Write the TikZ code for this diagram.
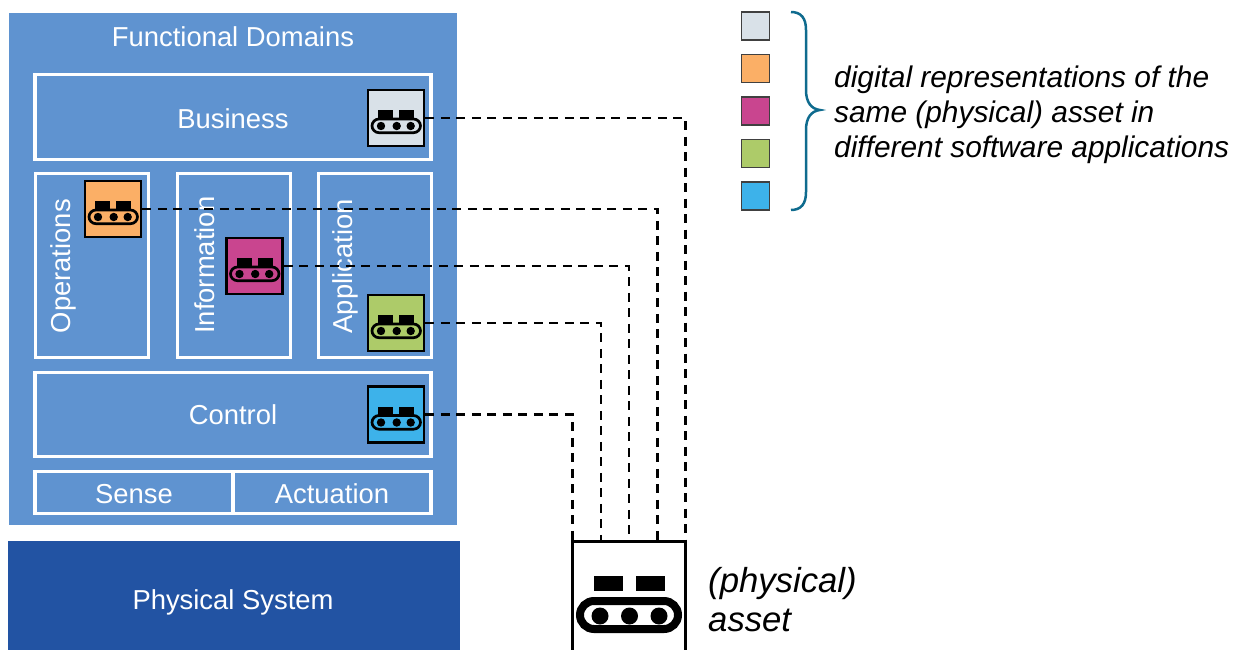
\documentclass[tikz,border=0pt]{standalone}
\usepackage{fontspec}
\setmainfont{Liberation Sans}
\definecolor{panelblue}{HTML}{5F93D0}
\definecolor{deepblue}{HTML}{2253A3}
\definecolor{assetgray}{HTML}{D9E1E8}
\definecolor{assetorange}{HTML}{FBAF66}
\definecolor{assetmagenta}{HTML}{C9458F}
\definecolor{assetgreen}{HTML}{ADCB69}
\definecolor{assetcyan}{HTML}{3DB2EA}
\definecolor{bracecol}{HTML}{0F6B8E}
\tikzset{
  domainbox/.style={draw=white,line width=3.2pt,text=white,inner sep=0pt,text height=23pt,text depth=0pt,font=\fontsize{27.4}{30}\selectfont},
  swatchbox/.style={draw=black,line width=2.7pt,minimum width=56pt,minimum height=56pt,inner sep=0pt},
  legendbox/.style={draw=black!75,line width=1.5pt,minimum width=28pt,minimum height=28pt,inner sep=0pt},
  linkline/.style={draw=black,line width=2.5pt,dash pattern=on 9pt off 6.5pt},
  bannertext/.style={text=white,inner sep=0pt,font=\fontsize{27.4}{30}\selectfont},
  notetext/.style={inner sep=0pt,align=left,font=\fontsize{29.85}{35}\selectfont\itshape},
  bignote/.style={inner sep=0pt,align=left,font=\fontsize{34.7}{39}\selectfont\itshape},
  pics/conveyor/.style={code={
    \fill[black] (-18,-8) rectangle (-3,0);
    \fill[black] (3,-8) rectangle (18,0);
    \draw[black,line width=2.7pt,rounded corners=7pt] (-24,1) rectangle (24.5,14.7);
    \fill[black] (-15,8) circle (4.2);
    \fill[black] (0.7,8) circle (4.2);
    \fill[black] (14.7,8) circle (4.2);
  }}
}
\begin{document}
\begin{tikzpicture}[x=1pt,y=-1pt]
\useasboundingbox (0,0) rectangle (1242,650);
% panels
\node[fill=panelblue,minimum width=448pt,minimum height=512pt,inner sep=0pt] (panel) at (233,269) {};
\node[fill=deepblue,minimum width=452pt,minimum height=109pt,inner sep=0pt] (physical) at (234,595.5) {};
\node[bannertext] (physlabel) at (233,602.5) {Physical System};
\node[bannertext] (title) at (233,37) {Functional Domains};
% domains
\node[domainbox,minimum width=396pt,minimum height=85pt] (business) at (233,116.7) {Business};
\node[domainbox,minimum width=113pt,minimum height=184pt] (operations) at (92,265.5) {};
\node[domainbox,minimum width=113pt,minimum height=184pt] (information) at (234,265.5) {};
\node[domainbox,minimum width=113pt,minimum height=184pt] (application) at (375,265.5) {};
\node[domainbox,minimum width=396pt,minimum height=84pt,text height=20pt] (control) at (233,414.5) {Control};
\node[domainbox,minimum width=198pt,minimum height=42pt,text height=21pt] (sense) at (134,492.5) {Sense};
\node[domainbox,minimum width=198pt,minimum height=42pt,text height=21pt] (actuation) at (332,492.5) {Actuation};
\node[bannertext,rotate=90,anchor=west] (optext) at (63.5,333.5) {Operations};
\node[bannertext,rotate=90,anchor=west] (infotext) at (204.5,334) {Information};
\node[bannertext,rotate=90,anchor=west] (apptext) at (345.5,333.5) {Application};
% icons
\node[swatchbox,fill=assetgray] (ibus) at (396,118) {};
\node[swatchbox,fill=assetorange] (iop) at (113,209) {};
\node[swatchbox,fill=assetmagenta] (iinfo) at (254.5,266) {};
\node[swatchbox,fill=assetgreen] (iapp) at (396,323) {};
\node[swatchbox,fill=assetcyan] (ictl) at (396,414.5) {};
\pic at (ibus) {conveyor};
\pic at (iop) {conveyor};
\pic at (iinfo) {conveyor};
\pic at (iapp) {conveyor};
\pic at (ictl) {conveyor};
% asset
\node[inner sep=0pt,outer sep=0pt,minimum width=113.4pt,minimum height=108.3pt] (asset) at (629,595.85) {};
\draw[black,line width=2.7pt] (asset.south west) -- (asset.north west) -- (asset.north east) -- (asset.south east);
\fill[black] (594,576) rectangle (623,591);
\fill[black] (636,576) rectangle (665,591);
\draw[black,line width=8pt,rounded corners=14pt] (580,601) rectangle (678,629);
\fill[black] (600,616) circle (8.5);
\fill[black] (629.5,616) circle (8.5);
\fill[black] (659,616) circle (8.5);
\node[bignote,anchor=west] (assettext) at (708,600) {(physical)\\asset};
% connectors
\coordinate (p1) at ([xshift=-56.5pt]asset.north);
\coordinate (p2) at ([xshift=-28pt]asset.north);
\coordinate (p3) at (asset.north);
\coordinate (p4) at ([xshift=28.5pt]asset.north);
\coordinate (p5) at (asset.north east);
\draw[linkline] (ictl.east) -| (p1);
\draw[linkline] (iapp.east) -| (p2);
\draw[linkline] (iinfo.east) -| (p3);
\draw[linkline] (iop.east) -| (p4);
\draw[linkline] (ibus.east) -| (p5);
% legend
\node[legendbox,fill=assetgray] (l1) at (755.5,26) {};
\node[legendbox,fill=assetorange] (l2) at (755.5,68.5) {};
\node[legendbox,fill=assetmagenta] (l3) at (755.5,111) {};
\node[legendbox,fill=assetgreen] (l4) at (755.5,153.5) {};
\node[legendbox,fill=assetcyan] (l5) at (755.5,196) {};
\draw[bracecol,line width=2.5pt] (791,12) .. controls (801,12) and (806,18) .. (806,30)
  -- (806,90) .. controls (806,102) and (811,109) .. (820,110)
  .. controls (811,111) and (806,118) .. (806,130)
  -- (806,192) .. controls (806,204) and (801,210) .. (791,210);
\node[notetext,anchor=west] (legendtext) at (834,115) {digital representations of the\\same (physical) asset in\\different software applications};
\end{tikzpicture}
\end{document}
